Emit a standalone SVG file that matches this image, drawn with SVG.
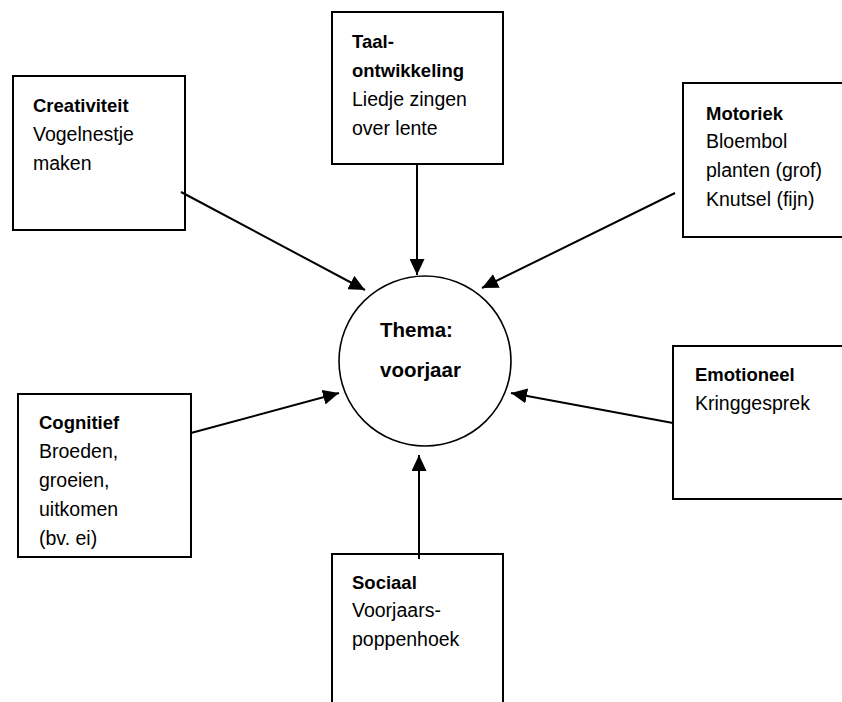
<svg xmlns="http://www.w3.org/2000/svg" width="842" height="702" viewBox="0 0 842 702">
<style>
.box{fill:#fff;stroke:#000;stroke-width:2}
.t{font-family:"Liberation Sans",Arial,sans-serif;font-size:19.5px;fill:#000}
.h{font-family:"Liberation Sans",Arial,sans-serif;font-size:18.5px;font-weight:bold;fill:#000}
.c{stroke:#000;stroke-width:2;fill:none}
</style>
<defs>
<marker id="ah" markerUnits="userSpaceOnUse" markerWidth="16" markerHeight="15" refX="16" refY="7.5" orient="auto">
<path d="M0,0 L16,7.5 L0,15 z" fill="#000"/>
</marker>
</defs>
<rect width="842" height="702" fill="#fff"/>
<g id="creativiteit">
<rect class="box" x="13" y="76" width="172" height="154"/>
<text class="h" x="33" y="112">Creativiteit</text>
<text class="t" x="33" y="141">Vogelnestje</text>
<text class="t" x="33" y="170">maken</text>
</g>
<g id="taal">
<rect class="box" x="332" y="12" width="171" height="152"/>
<text class="h" x="352" y="48">Taal-</text>
<text class="h" x="352" y="77">ontwikkeling</text>
<text class="t" x="352" y="106">Liedje zingen</text>
<text class="t" x="352" y="135">over lente</text>
</g>
<g id="motoriek">
<rect class="box" x="683" y="83" width="170" height="154"/>
<text class="h" x="706" y="120">Motoriek</text>
<text class="t" x="706" y="148">Bloembol</text>
<text class="t" x="706" y="177">planten (grof)</text>
<text class="t" x="706" y="206">Knutsel (fijn)</text>
</g>
<g id="thema">
<ellipse cx="425" cy="361" rx="86" ry="85" fill="#fff" stroke="#000" stroke-width="1.6"/>
<text class="h" x="380" y="337" style="font-size:20.5px">Thema:</text>
<text class="h" x="380" y="377" style="font-size:20.5px">voorjaar</text>
</g>
<g id="cognitief">
<rect class="box" x="18" y="394" width="173" height="163"/>
<text class="h" x="39" y="429">Cognitief</text>
<text class="t" x="39" y="458">Broeden,</text>
<text class="t" x="39" y="487">groeien,</text>
<text class="t" x="39" y="516">uitkomen</text>
<text class="t" x="39" y="545">(bv. ei)</text>
</g>
<g id="emotioneel">
<rect class="box" x="673" y="346" width="180" height="153"/>
<text class="h" x="695" y="381">Emotioneel</text>
<text class="t" x="695" y="410">Kringgesprek</text>
</g>
<g id="sociaal">
<rect class="box" x="332" y="554" width="171" height="160"/>
<text class="h" x="352" y="589">Sociaal</text>
<text class="t" x="352" y="617">Voorjaars-</text>
<text class="t" x="352" y="646">poppenhoek</text>
</g>
<g id="connectors">
<line class="c" x1="181" y1="192" x2="365" y2="290" marker-end="url(#ah)"/>
<line class="c" x1="417" y1="164" x2="417" y2="275" marker-end="url(#ah)"/>
<line class="c" x1="675" y1="193" x2="482" y2="288" marker-end="url(#ah)"/>
<line class="c" x1="191" y1="433" x2="339" y2="393" marker-end="url(#ah)"/>
<line class="c" x1="673" y1="423" x2="511" y2="393" marker-end="url(#ah)"/>
<line class="c" x1="419" y1="559" x2="419" y2="455" marker-end="url(#ah)"/>
</g>
</svg>
